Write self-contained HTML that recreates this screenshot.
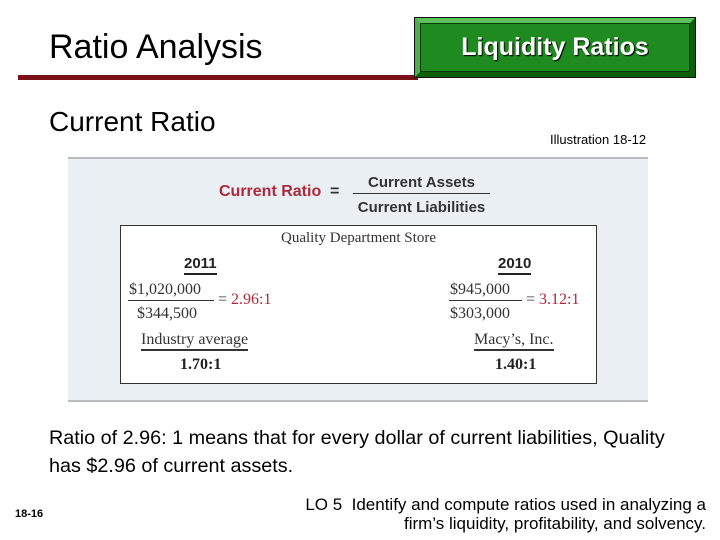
<!DOCTYPE html>
<html><head><meta charset="utf-8"><style>
body{margin:0;width:720px;height:540px;background:#fff;position:relative;overflow:hidden;font-family:"Liberation Sans",sans-serif}
.a{position:absolute;white-space:nowrap}
.s{font-family:"Liberation Serif",serif}
.r{color:#b0283a}
</style></head><body>
<div class="a" style="left:49px;top:27px;font-size:34px;color:#000;line-height:40px">Ratio Analysis</div>
<div class="a" style="left:18px;top:75px;width:400px;height:5px;background:#7a1018"></div>
<div class="a" style="left:414px;top:17px;width:282px;height:61px;background:#1f8a1f;box-sizing:border-box;border:1px solid #111;">
 <div class="a" style="left:0;top:0;width:280px;height:59px;box-sizing:border-box;border-style:solid;border-width:5px;border-color:#5cc05c #0d5e0d #0d5e0d #4cb04c"></div>
 <div class="a" style="left:5px;top:5px;width:270px;height:49px;box-sizing:border-box;border:1px solid #0a3a0a"></div>
 <div class="a" style="left:0;top:14px;width:280px;text-align:center;color:#fff;font-weight:bold;font-size:25px;line-height:30px;text-shadow:1px 1px 1px #000">Liquidity Ratios</div>
</div>
<div class="a" style="left:49px;top:106px;font-size:28px;line-height:32px">Current Ratio</div>
<div class="a" style="left:550px;top:132px;font-size:13px">Illustration 18-12</div>

<div class="a" style="left:68px;top:157px;width:580px;height:245px;background:#e9eff3;border-top:2px solid #b8bcc0;border-bottom:2px solid #b8bcc0;box-sizing:border-box"></div>
<div class="a r" style="left:219px;top:183px;font-size:16px;font-weight:bold">Current Ratio</div>
<div class="a" style="left:330px;top:183px;font-size:16px;font-weight:bold;color:#333">=</div>
<div class="a" style="left:353px;top:174px;width:137px;text-align:center;font-size:15px;font-weight:bold;color:#333">Current Assets</div>
<div class="a" style="left:353px;top:193px;width:137px;height:1px;background:#333"></div>
<div class="a" style="left:353px;top:199px;width:137px;text-align:center;font-size:15px;font-weight:bold;color:#333">Current Liabilities</div>

<div class="a" style="left:120px;top:225px;width:477px;height:159px;background:#fff;border:1px solid #333;box-sizing:border-box"></div>
<div class="a s" style="left:120px;top:230px;width:477px;text-align:center;font-size:15px;color:#333">Quality Department Store</div>
<div class="a" style="left:184px;top:255px;font-size:15px;font-weight:bold;color:#222;border-bottom:2px solid #222;padding-bottom:1px">2011</div>
<div class="a" style="left:498px;top:255px;font-size:15px;font-weight:bold;color:#222;border-bottom:2px solid #222;padding-bottom:1px">2010</div>
<div class="a s" style="left:129px;top:281px;font-size:16px;color:#333">$1,020,000</div>
<div class="a" style="left:128px;top:300px;width:86px;height:1px;background:#333"></div>
<div class="a s" style="left:137px;top:305px;font-size:16px;color:#333">$344,500</div>
<div class="a s" style="left:218px;top:291px;font-size:16px;color:#333">= <span class="r">2.96:1</span></div>
<div class="a s" style="left:450px;top:281px;font-size:16px;color:#333">$945,000</div>
<div class="a" style="left:449px;top:300px;width:73px;height:1px;background:#333"></div>
<div class="a s" style="left:450px;top:305px;font-size:16px;color:#333">$303,000</div>
<div class="a s" style="left:526px;top:291px;font-size:16px;color:#333">= <span class="r">3.12:1</span></div>
<div class="a s" style="left:141px;top:331px;font-size:16px;color:#333;border-bottom:2px solid #333">Industry average</div>
<div class="a s" style="left:474px;top:331px;font-size:16px;color:#333;border-bottom:2px solid #333">Macy’s, Inc.</div>
<div class="a s" style="left:180px;top:356px;font-size:16px;font-weight:bold;color:#222">1.70:1</div>
<div class="a s" style="left:495px;top:356px;font-size:16px;font-weight:bold;color:#222">1.40:1</div>

<div class="a" style="left:49px;top:424px;font-size:19.8px;line-height:28px">Ratio of 2.96: 1 means that for every dollar of current liabilities, Quality<br>has $2.96 of current assets.</div>
<div class="a" style="left:15px;top:508px;font-size:11px;font-weight:bold">18-16</div>
<div class="a" style="right:14px;top:495px;font-size:17px;text-align:right;line-height:19px">LO 5&nbsp; Identify and compute ratios used in analyzing a<br>firm’s liquidity, profitability, and solvency.</div>
</body></html>
